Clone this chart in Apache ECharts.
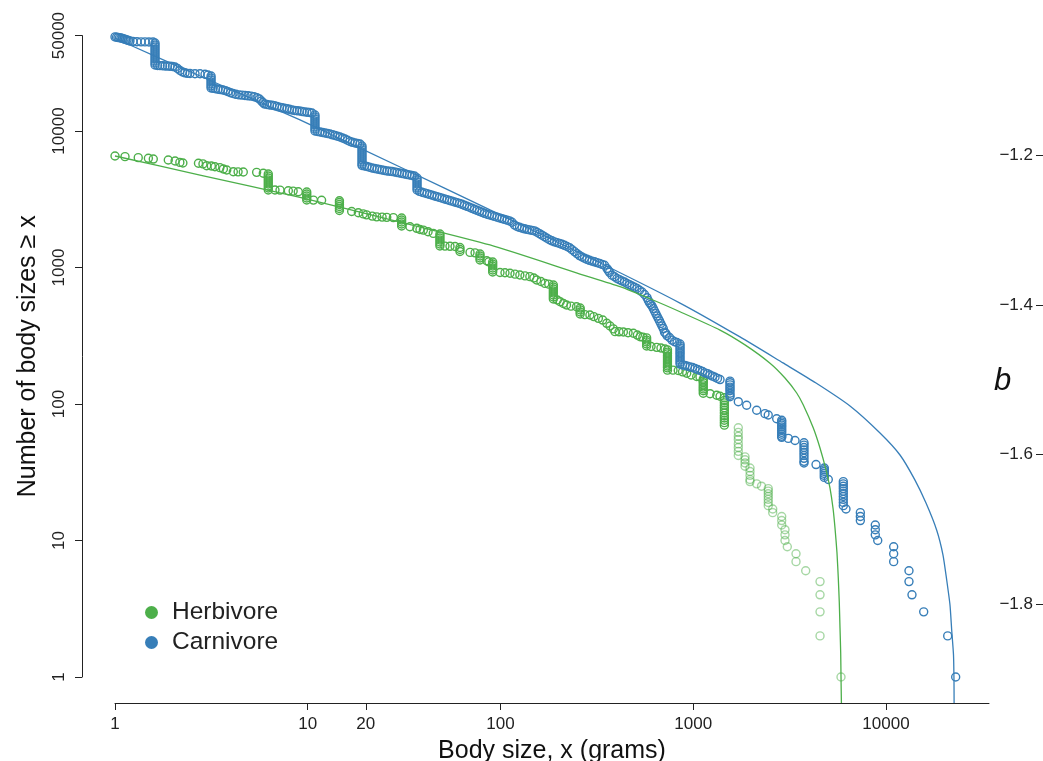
<!DOCTYPE html>
<html>
<head>
<meta charset="utf-8">
<script src="https://cdn.jsdelivr.net/npm/echarts@6/dist/echarts.min.js"></script>
<style>
  html, body { margin: 0; padding: 0; background: #fff; }
  #chart { width: 1043px; height: 761px; }
</style>
</head>
<body>
<div id="chart"></div>
<script>
// Rank–size data: [body size in grams, number of body sizes >= x]
const herbivore = [
  [1.0,6560],[1.127,6490],[1.32,6380],[1.49,6310],[1.58,6230],[1.89,6130],[2.05,6030],[2.17,5890],
  [2.25,5830],[2.71,5800],[2.86,5740],[2.99,5570],[3.16,5540],[3.30,5470],[3.5,5390],[3.65,5270],
  [3.8,5180],[4.11,5030],[4.35,5020],[4.63,5010],[5.43,4980],[5.88,4900],
  [6.24,4842],[6.24,4681],[6.24,4527],[6.24,4375],[6.24,4230],[6.24,4089],[6.24,3955],[6.24,3822],[6.24,3700],
  [6.76,3695],[7.18,3690],[7.93,3650],[8.4,3630],[8.93,3590],
  [9.88,3573],[9.88,3455],[9.88,3340],[9.88,3229],[9.88,3122],
  [10.7,3118],[11.8,3110],
  [14.6,3080],[14.6,2994],[14.6,2894],[14.6,2798],[14.6,2705],[14.6,2616],
  [16.9,2570],[18.3,2520],[19.4,2470],[20.2,2430],[21.6,2380],[22.8,2350],[24.3,2340],[25.7,2330],[27.8,2320],
  [30.7,2305],[30.7,2229],[30.7,2154],[30.7,2083],[30.7,2014],
  [33.9,1990],[36.8,1937],[38.2,1900],[39.8,1880],[42.1,1830],[44.8,1778],
  [48.5,1760],[48.5,1701],[48.5,1645],[48.5,1590],[48.5,1538],[48.5,1487],[48.5,1437],
  [51.5,1435],[54.7,1430],[58.1,1425],
  [61.6,1401],[61.6,1354],[61.6,1310],
  [69.5,1290],[73.8,1280],
  [78.3,1256],[78.3,1215],[78.3,1174],[78.3,1135],
  [84.8,1120],[87,1100],
  [91.1,1098],[91.1,1061],[91.1,1026],[91.1,991],[91.1,959],[91.1,927],
  [99.4,920],[105.5,915],[112,907],[118.9,894],[126,881],[134,868],[142,857],[149,838],[154,810],
  [162,790],[170,765],[178,755],
  [188,745],[188,720],[188,695],[188,673],[188,651],[188,629],[188,608],[188,588],
  [197,578],[204,561],[212,545],[220,531],[232,521],[248,516],
  [259,505],[259,489],[259,472],[259,457],
  [274,452],[291,449],[305,437],[322,424],[339,412],[356,390],[370,373],[385,355],[393,339],
  [412,338],[434,337],[459,333],[489,330],[513,320],[530,311],[548,309],
  [573,305],[573,294],[573,285],[573,275],[573,266],
  [604,264],[646,260],[680,257],[714,253],
  [735,249],[735,240],[735,233],[735,225],[735,217],[735,210],[735,203],[735,196],[735,190],[735,184],[735,177],
  [785,177],[836,176],[880,172],[925,168],[975,163],[1042,159],[1084,158],
  [1127,152],[1127,147],[1127,143],[1127,138],[1127,133],[1127,129],[1127,125],[1127,120],
  [1222,119],[1324,116],[1377,114],
  [1450,111],[1450,106],[1450,102],[1450,98],[1450,94],[1450,90],[1450,86],[1450,82],[1450,79],[1450,76],[1450,73],[1450,70]
];
// largest herbivores, drawn in a lighter shade
const herbivoreTail = [
  [1713,67],[1713,62],[1713,58],[1713,55],[1713,51],[1713,48],[1713,45],[1713,42],
  [1856,41],[1856,39],[1856,37],[1856,35],
  [1970,34],[1970,32],[1970,30],[1970,28],[1970,27],
  [2134,26],[2260,25],
  [2450,24],[2450,23],[2450,22],[2450,21],[2450,20],[2450,19],[2450,18],
  [2584,17],[2584,16],
  [2877,15],[2877,14],[2877,13],
  [2992,12],[2992,11],[2992,10],
  [3076,9],[3413,8],[3413,7],[3832,6],[4547,5],[4547,4],[4547,3],[4547,2],[5842,1]
];
const carnivore = [
  [1.0,48900],[1.018,48650],[1.036,48400],[1.055,48200],[1.074,47980],[1.094,47600],[1.114,47200],
  [1.134,46800],[1.154,46420],[1.175,46000],[1.196,45640],[1.24,45300],[1.30,45100],[1.365,45000],
  [1.431,44950],[1.50,44900],[1.575,44850],
  [1.613,44130],[1.613,42660],[1.613,41250],[1.613,39870],[1.613,38550],[1.613,37270],[1.613,36040],
  [1.613,34840],[1.613,33690],[1.613,32570],[1.613,31490],[1.613,30450],
  [1.662,30190],[1.712,30150],[1.764,30100],[1.817,29940],[1.872,29900],[1.929,29850],[1.987,29690],
  [2.048,29440],[2.110,28700],[2.174,27750],[2.240,27050],[2.308,26690],[2.378,26460],[2.450,26370],
  [2.600,26300],[2.761,26250],[2.931,26070],[3.037,25720],
  [3.15,25280],[3.15,24450],[3.15,23640],[3.15,22860],[3.15,22100],[3.15,21370],[3.15,20660],
  [3.225,20560],[3.323,20420],[3.424,20250],[3.527,20110],[3.634,19970],[3.744,19770],[3.857,19440],
  [3.975,19080],[4.095,18820],[4.244,18570],[4.399,18410],[4.560,18320],[4.726,18200],[4.899,18110],
  [5.078,18020],[5.264,17840],[5.456,17540],[5.614,17150],[5.749,16590],[5.850,16170],[5.953,15770],
  [6.146,15640],[6.333,15500],[6.524,15430],[6.723,15300],[6.926,15120],[7.135,14920],[7.352,14790],
  [7.574,14670],[7.804,14540],[8.040,14420],[8.284,14250],[8.535,14150],[8.794,14080],[9.061,14010],
  [9.336,13910],[9.618,13800],[9.911,13730],[10.21,13660],[10.52,13540],
  [10.9,13100],[10.9,12660],[10.9,12240],[10.9,11840],[10.9,11440],[10.9,11070],[10.9,10700],
  [10.9,10340],[10.9,10000],
  [11.23,9916],[11.58,9832],[11.93,9750],[12.29,9668],[12.66,9585],[13.04,9506],[13.44,9378],
  [13.85,9268],[14.27,9160],[14.70,9036],[15.15,8886],[15.61,8738],[16.08,8562],[16.57,8377],
  [17.07,8265],[17.59,8168],[18.12,8100],[18.67,8031],
  [19.12,7764],[19.12,7507],[19.12,7258],[19.12,7018],[19.12,6785],[19.12,6560],[19.12,6343],
  [19.12,6132],[19.12,5929],[19.12,5732],[19.12,5590],
  [19.70,5543],[20.29,5495],[20.91,5422],[21.54,5357],[22.20,5313],[22.87,5268],[23.57,5223],
  [24.28,5179],[25.02,5136],[25.77,5093],[26.55,5075],[27.36,5049],[28.19,5006],[29.04,4966],
  [29.92,4924],[30.83,4882],[31.76,4842],[32.73,4801],[33.72,4761],[34.74,4721],[35.79,4681],
  [36.9,4527],[36.9,4375],[36.9,4230],[36.9,4089],[36.9,3955],[36.9,3822],[36.9,3696],
  [38.00,3615],[39.15,3561],[40.34,3519],[41.56,3478],[42.83,3431],[44.12,3391],[45.46,3345],
  [46.83,3306],[48.26,3262],[49.72,3223],[51.22,3180],[52.78,3142],[54.37,3100],[56.02,3064],
  [57.71,3023],[59.47,2988],[61.27,2948],[63.12,2904],[65.03,2855],[67.01,2807],[69.04,2761],
  [71.13,2714],[73.30,2669],[75.51,2624],[77.82,2580],[80.17,2537],[82.60,2495],[85.11,2457],
  [87.69,2428],[90.35,2400],[93.09,2368],[95.90,2339],[98.81,2309],[101.8,2281],[104.9,2251],
  [108.1,2225],[111.4,2195],[114.7,2144],[118.2,2048],[121.8,1997],[125.5,1970],[129.3,1944],
  [133.2,1921],[137.3,1902],[141.4,1886],[145.7,1870],[150.2,1854],[154.7,1814],[159.4,1769],
  [164.2,1725],[169.2,1681],[174.3,1639],[179.6,1598],[185.0,1569],[190.6,1542],[196.4,1522],
  [202.4,1501],[208.5,1479],[214.8,1454],[221.3,1425],[228.0,1397],[234.9,1352],[242.0,1308],
  [249.4,1264],[257.0,1223],[264.7,1194],[272.8,1168],[281.0,1148],[289.5,1129],[298.3,1114],
  [307.4,1101],[316.7,1086],[326.3,1072],[336.2,1055],[346.4,1038],[356.9,983],[362.4,952],
  [367.8,922],[378.9,877],[390.4,855],[402.2,831],[414.5,813],[427.1,797],[440.0,783],[453.3,764],
  [467.1,747],[481.2,732],[495.8,716],[510.9,702],[526.3,681],[542.3,662],[558.7,634],[575.6,601],
  [584.8,573],[593.0,552],[602.4,537],[611.0,522],[620.4,501],[629.5,480],[639.2,460],[648.6,441],
  [658.6,423],[668.3,406],[678.5,389],[688.5,373],[699.1,357],[709.3,336],[720.3,329],[730.8,317],
  [753.0,307],[775.8,294],[799.3,286],[823.5,282],
  [854,275],[854,266],[854,257],[854,249],[854,240],[854,233],[854,225],[854,217],[854,210],[854,203],[854,196],
  [880,193],[906,192],[934,189],[962,187],[991,185],[1021,182],[1052,179],[1084,176],[1117,173],
  [1151,169],[1186,167],[1222,163],[1259,160],[1297,157],[1336,154],[1377,151],
  [1551,147],[1551,143],[1551,138],[1551,133],[1551,129],[1551,125],[1551,120],[1551,116],[1551,113],
  [1713,104],[1893,98],[2134,90],[2356,85],[2449,83],[2710,78],
  [2877,76],[2877,74],[2877,72],[2877,70],[2877,68],[2877,66],[2877,64],[2877,62],[2877,60],[2877,58],[2877,57],
  [3113,56],[3373,54],
  [3755,52],[3755,50],[3755,48],[3755,46],[3755,44],[3755,42],[3755,40],[3755,38],[3755,37],
  [4335,36],
  [4786,34],[4786,33],[4786,32],[4786,31],[4786,30],[4786,29],
  [5020,28],
  [6005,27],[6005,26],[6005,25],[6005,24],[6005,23],[6005,22],[6005,21],[6005,20],[6005,19],[6005,18],
  [6200,17],[7360,16],[7360,15],[7360,14],[8800,13],[8800,12],[8800,11],[9060,10],
  [10960,9],[10960,8],[10960,7],[13160,6],[13160,5],[13640,4],[15690,3],[20900,2],[22990,1]
];
// Fitted curves, running down to the lower edge of the plot
const herbivoreFit = [
  [1.0,6560],[2.761,4760],[9.117,3258],[30.11,2154],[88.22,1462],[258.5,896],[416.9,723],
  [618,578],[853.8,474],[1377,348],[1856,271],[2502,199],[2992,155],[3441,120.4],[3724,98.3],
  [4197,66.7],[4546,47.6],[4884,32.9],[5123,24.2],[5309,17.3],[5438,12.35],[5569,8.1],[5656,5.31],
  [5725,3.48],[5773,2.29],[5821,1.5],[5843,1.0],[5870,0.645]
];
const carnivoreFit = [
  [1.0,47980],[1.196,42660],[2.761,25290],[9.117,12050],[30.11,5450],[88.22,2640],[258.5,1277],
  [853.8,549],[1748,310],[2922,200],[4335,142.5],[6506,96.7],[9310,61.3],[11820,42.3],[14140,27.7],
  [16130,18.8],[18330,11.9],[19760,7.83],[20650,5.14],[21480,3.37],[21920,2.21],[22400,1.45],
  [22530,0.95],[22560,0.645]
];

const xTicks = [1, 10, 20, 100, 1000, 10000];
const yTicks = [1, 10, 100, 1000, 10000, 50000];
const bTicks = [-1.8, -1.6, -1.4, -1.2];

const GREEN = '#4daf4a';
const GREEN_LIGHT = 'rgba(77,175,74,0.5)';
const BLUE = '#377eb8';
const INK = '#222';
const FONT = '"Liberation Sans", Arial, Helvetica, sans-serif';

const chart = echarts.init(document.getElementById('chart'), null, { renderer: 'canvas' });

function hollow(color) {
  return { color: 'rgba(0,0,0,0)', borderColor: color, borderWidth: 1.4, opacity: 1 };
}

chart.setOption({
  animation: false,
  backgroundColor: '#fff',
  textStyle: { fontFamily: FONT },
  // fixed plot box; the x-axis title is allowed to run off the bottom edge
  grid: { left: 115, right: 54, top: 35.6, bottom: 84, containLabel: false, outerBoundsMode: 'none' },
  xAxis: {
    type: 'log', logBase: 10, min: 1, max: 34230, offset: 26,
    axisLine: { lineStyle: { color: INK, width: 1 } },
    axisTick: { length: 7, customValues: xTicks, lineStyle: { color: INK, width: 1 } },
    axisLabel: {
      customValues: xTicks, fontSize: 17, color: INK, margin: 13, fontFamily: FONT,
      formatter: v => String(Math.round(v))
    },
    splitLine: { show: false }, minorTick: { show: false },
    name: 'Body size, x (grams)', nameLocation: 'middle', nameGap: 36,
    nameTextStyle: { fontSize: 25, color: '#111', fontFamily: FONT }
  },
  yAxis: [
    {
      type: 'log', logBase: 10, min: 1, max: 50000, offset: 33,
      axisLine: { lineStyle: { color: INK, width: 1 } },
      axisTick: { length: 7, customValues: yTicks, lineStyle: { color: INK, width: 1 } },
      axisLabel: {
        customValues: yTicks, rotate: 90, fontSize: 17, color: INK, margin: 14, fontFamily: FONT,
        formatter: v => String(Math.round(v))
      },
      splitLine: { show: false },
      name: 'Number of body sizes \u2265 x', nameLocation: 'middle', nameRotate: 90, nameGap: 41,
      nameTextStyle: { fontSize: 25, color: '#111', fontFamily: FONT }
    },
    {
      type: 'value', position: 'left', offset: -930, min: -1.8968, max: -1.0406,
      axisLine: { show: false },
      axisTick: { show: true, length: 9, customValues: bTicks, lineStyle: { color: INK, width: 1 } },
      axisLabel: {
        customValues: bTicks, fontSize: 17, color: INK, margin: 12, fontFamily: FONT,
        formatter: v => v.toFixed(1).replace('-', '\u2212')
      },
      splitLine: { show: false }
    }
  ],
  legend: {
    orient: 'vertical', left: 140, top: 595, itemWidth: 13, itemHeight: 13, itemGap: 5,
    selectedMode: false,
    data: [
      { name: 'Herbivore', icon: 'circle', itemStyle: { color: GREEN, borderWidth: 0, opacity: 1 } },
      { name: 'Carnivore', icon: 'circle', itemStyle: { color: BLUE, borderWidth: 0, opacity: 1 } }
    ],
    textStyle: { fontSize: 24.5, lineHeight: 24, color: INK, fontFamily: FONT, padding: [0, 0, 0, 9] }
  },
  graphic: [
    {
      type: 'text', left: 994, top: 366, silent: true,
      style: { text: 'b', font: 'italic 31px ' + FONT, fill: '#111' }
    }
  ],
  series: [
    { type: 'scatter', name: 'Herbivore', data: herbivore, symbol: 'circle', symbolSize: 8,
      itemStyle: hollow(GREEN), clip: false, z: 2, silent: true },
    { type: 'scatter', name: 'Herbivore', data: herbivoreTail, symbol: 'circle', symbolSize: 8,
      itemStyle: hollow(GREEN_LIGHT), clip: false, z: 2, silent: true },
    { type: 'scatter', name: 'Carnivore', data: carnivore, symbol: 'circle', symbolSize: 8,
      itemStyle: hollow(BLUE), clip: false, z: 2, silent: true },
    { type: 'line', name: 'herbivore fit', data: herbivoreFit, showSymbol: false, symbol: 'none',
      smooth: 0.2, lineStyle: { color: GREEN, width: 1.3 }, clip: false, z: 3, silent: true },
    { type: 'line', name: 'carnivore fit', data: carnivoreFit, showSymbol: false, symbol: 'none',
      smooth: 0.2, lineStyle: { color: BLUE, width: 1.3 }, clip: false, z: 3, silent: true }
  ]
});
</script>
</body>
</html>
